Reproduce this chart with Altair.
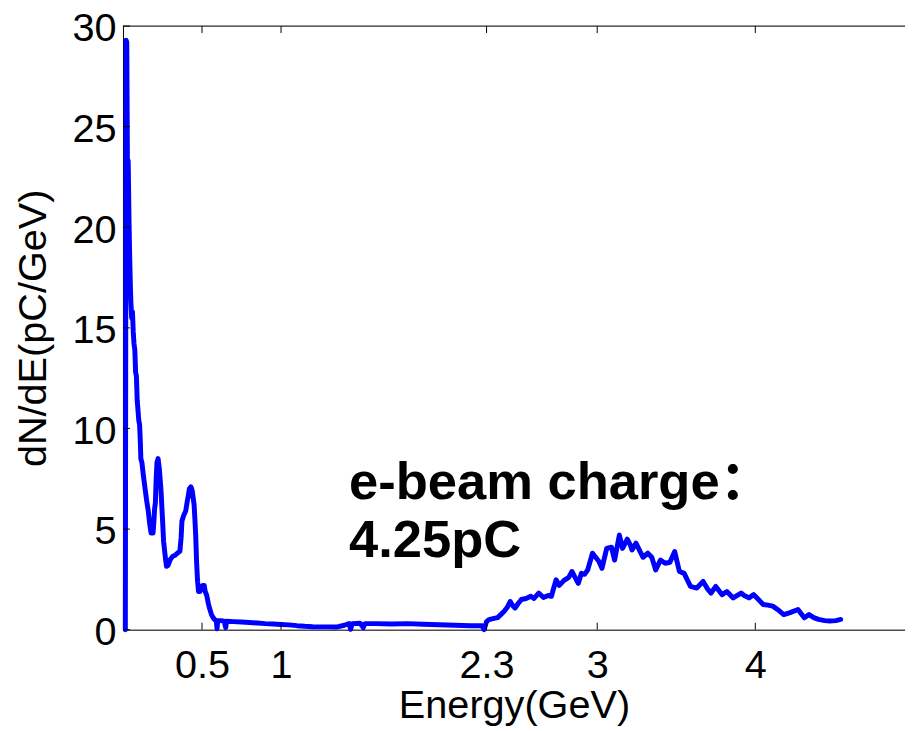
import altair as alt
import pandas as pd

# ---- data ----
energy = [0.015, 0.02, 0.024, 0.028, 0.033, 0.038, 0.042, 0.047, 0.05, 0.055,
          0.06, 0.065, 0.07, 0.075, 0.08, 0.085, 0.09, 0.1, 0.105, 0.11,
          0.113, 0.12, 0.13, 0.14, 0.15, 0.16, 0.17, 0.178, 0.19, 0.195,
          0.2, 0.205, 0.21, 0.215, 0.222, 0.23, 0.24, 0.25, 0.257, 0.265,
          0.275, 0.285, 0.3, 0.315, 0.33, 0.345, 0.36, 0.368, 0.373, 0.385,
          0.397, 0.405, 0.414, 0.42, 0.43, 0.438, 0.445, 0.45, 0.455, 0.46,
          0.466, 0.472, 0.478, 0.488, 0.497, 0.505, 0.514, 0.52, 0.53, 0.54,
          0.55, 0.56, 0.57, 0.58, 0.59, 0.595, 0.6, 0.62, 0.64, 0.65,
          0.655, 0.7, 0.75, 0.8, 0.85, 0.9, 0.95, 1.0, 1.05, 1.1,
          1.15, 1.2, 1.25, 1.3, 1.35, 1.4, 1.43, 1.44, 1.45, 1.5,
          1.52, 1.53, 1.6, 1.7, 1.8, 1.9, 2.0, 2.1, 2.2, 2.27,
          2.284, 2.3, 2.315, 2.34, 2.37, 2.39, 2.41, 2.43, 2.45, 2.465,
          2.48, 2.5, 2.52, 2.55, 2.58, 2.6, 2.63, 2.66, 2.69, 2.71,
          2.74, 2.76, 2.79, 2.82, 2.84, 2.86, 2.88, 2.9, 2.92, 2.94,
          2.97, 2.99, 3.01, 3.03, 3.06, 3.09, 3.11, 3.14, 3.16, 3.19,
          3.21, 3.22, 3.245, 3.27, 3.29, 3.32, 3.345, 3.37, 3.4, 3.43,
          3.46, 3.49, 3.52, 3.55, 3.59, 3.63, 3.67, 3.7, 3.72, 3.75,
          3.79, 3.82, 3.86, 3.91, 3.93, 3.96, 3.99, 4.02, 4.05, 4.08,
          4.11, 4.15, 4.18, 4.22, 4.27, 4.31, 4.34, 4.37, 4.4, 4.44,
          4.47, 4.51, 4.54]
dnde = [0.0, 29.3, 29.2, 23.4, 23.3, 20.5, 18.7, 17.0, 16.3, 15.5,
        15.8, 14.8, 14.2, 13.9, 12.8, 12.6, 11.4, 10.4, 10.2, 9.3,
        8.5, 8.3, 7.6, 7.0, 6.4, 5.9, 5.2, 4.8, 4.8, 5.3,
        6.0, 6.3, 7.5, 8.3, 8.5, 8.0, 7.0, 5.5, 4.4, 3.8,
        3.15, 3.2, 3.5, 3.65, 3.7, 3.8, 3.9, 4.6, 5.4, 5.7,
        5.9, 6.3, 6.7, 7.0, 7.1, 6.9, 6.5, 6.2, 5.5, 4.7,
        3.3, 2.4, 1.9, 1.9, 2.1, 2.2, 2.2, 1.9, 1.7, 1.3,
        1.0, 0.75, 0.6, 0.5, 0.45, 0.05, 0.45, 0.45, 0.42, 0.1,
        0.42, 0.4, 0.38, 0.36, 0.33, 0.3, 0.28, 0.26, 0.24, 0.2,
        0.17, 0.15, 0.14, 0.14, 0.13, 0.22, 0.3, 0.02, 0.3, 0.32,
        0.1, 0.3, 0.3, 0.28, 0.3, 0.27, 0.25, 0.22, 0.2, 0.2,
        0.0, 0.4, 0.5, 0.55, 0.6, 0.75, 0.9, 1.1, 1.4, 1.2,
        1.08, 1.3, 1.5, 1.55, 1.66, 1.55, 1.82, 1.6, 1.7, 1.66,
        2.48, 2.2, 2.45, 2.6, 2.89, 2.6, 2.3, 2.8, 2.75, 2.97,
        3.8, 3.6, 3.4, 3.05, 4.04, 4.1, 3.46, 4.7, 4.04, 4.5,
        4.2, 3.96, 4.3, 3.9, 3.6, 3.8, 3.6, 2.97, 3.46, 3.3,
        3.35, 3.88, 2.89, 2.8, 2.15, 2.07, 2.4, 2.0, 1.82, 2.15,
        1.74, 1.9, 1.58, 1.82, 1.7, 1.58, 1.74, 1.5, 1.25, 1.22,
        1.17, 0.95, 0.75, 0.85, 1.0, 0.59, 0.75, 0.6, 0.51, 0.45,
        0.43, 0.45, 0.51]
x_ticks = [0.5, 1, 2.3, 3, 4]
y_ticks = [0, 5, 10, 15, 20, 25, 30]
annotation_lines = ["e-beam charge：", "4.25pC"]
x_title = "Energy(GeV)"
y_title = "dN/dE(pC/GeV)"

W, H = 789, 609
X_MAX = 4.947
FONT = "Liberation Sans, Arial, Helvetica, sans-serif"
BOLD_FONT = "Liberation Sans, Arial, Noto Sans CJK SC, sans-serif"

xscale = alt.Scale(domain=[0, X_MAX], nice=False, zero=False)
yscale = alt.Scale(domain=[0, 30], nice=False, zero=False)

xaxis = alt.Axis(values=x_ticks, format="~g", ticks=False, grid=False,
                 domainColor="black", domainWidth=1,
                 labelFont=FONT, labelFontSize=40, labelColor="black",
                 labelPadding=16, labelFlush=False, labelOverlap=False,
                 titleFont=FONT, titleFontSize=40, titleFontWeight="normal",
                 titleColor="black", titleBaseline="alphabetic", titleY=89)
yaxis = alt.Axis(values=y_ticks, format="~g", ticks=False, grid=False,
                 domainColor="black", domainWidth=1,
                 labelFont=FONT, labelFontSize=40, labelColor="black",
                 labelPadding=7, labelOffset=3, labelFlush=False, labelOverlap=False,
                 titleFont=FONT, titleFontSize=40, titleFontWeight="normal",
                 titleColor="black", titleBaseline="alphabetic",
                 titleAngle=270, titleX=-78, titleY=H / 2)

df = pd.DataFrame({"E": energy, "v": dnde, "i": list(range(len(energy)))})

line = alt.Chart(df).mark_line(color="#0000ff", strokeWidth=5,
                               strokeJoin="round", strokeCap="round").encode(
    x=alt.X("E:Q", scale=xscale, axis=xaxis, title=x_title),
    y=alt.Y("v:Q", scale=yscale, axis=yaxis, title=y_title),
    order="i:Q",
)

xt = pd.DataFrame({"E": x_ticks})
yt = pd.DataFrame({"v": y_ticks})

tick_bottom = alt.Chart(xt).mark_rule(color="black", strokeWidth=1).encode(
    x=alt.X("E:Q", scale=xscale, title=x_title), y=alt.value(H), y2=alt.value(H - 7))
tick_top = alt.Chart(xt).mark_rule(color="black", strokeWidth=1).encode(
    x=alt.X("E:Q", scale=xscale, title=x_title), y=alt.value(0), y2=alt.value(7))
tick_left = alt.Chart(yt).mark_rule(color="black", strokeWidth=1).encode(
    y=alt.Y("v:Q", scale=yscale, title=y_title), x=alt.value(0), x2=alt.value(7))

one = pd.DataFrame({"k": [0]})
top_border = alt.Chart(one).mark_rule(color="black", strokeWidth=1).encode(
    x=alt.value(0), x2=alt.value(W), y=alt.value(0))

ann1 = alt.Chart(pd.DataFrame({"t": [annotation_lines[0]]})).mark_text(
    align="left", baseline="alphabetic", font=BOLD_FONT, fontSize=53,
    fontWeight="bold", color="black").encode(
    text="t:N", x=alt.value(228), y=alt.value(477))
ann2 = alt.Chart(pd.DataFrame({"t": [annotation_lines[1]]})).mark_text(
    align="left", baseline="alphabetic", font=BOLD_FONT, fontSize=53,
    fontWeight="bold", color="black").encode(
    text="t:N", x=alt.value(228), y=alt.value(536))

chart = alt.layer(line, tick_bottom, tick_top, tick_left, top_border, ann1, ann2).properties(
    width=W, height=H, autosize="none",
    padding={"left": 116, "top": 15, "right": 0, "bottom": 99},
).configure_view(stroke=None).configure(background="white")

chart.save("out.html", embed_options={"renderer": "svg", "actions": False})
